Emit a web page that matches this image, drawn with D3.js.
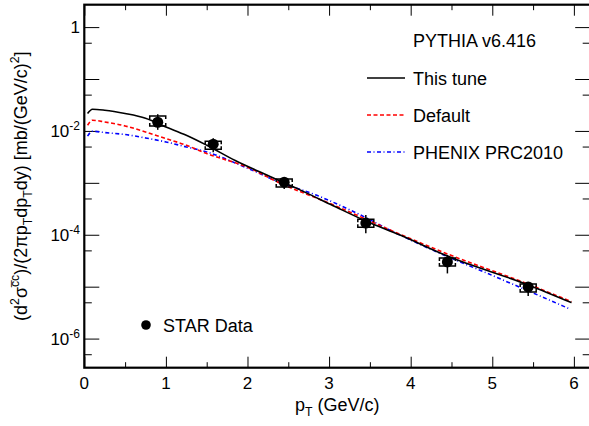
<!DOCTYPE html>
<html>
<head>
<meta charset="utf-8">
<script src="https://cdn.jsdelivr.net/npm/d3@7"></script>
<style>
  body { margin: 0; background: #fff; }
  svg { font-family: "Liberation Sans", Arial, sans-serif; }
</style>
</head>
<body>
<div id="chart"></div>
<script>
// STAR data points
const starPt = [0.9, 1.58, 2.45, 3.45, 4.45, 5.44];
const starVal = [1.47e-2, 5.55e-3, 1.03e-3, 1.68e-4, 3.0e-5, 9.9e-6];
const statLo = [1.05e-2, 3.9e-3, 7.6e-4, 1.07e-4, 1.8e-5, 6.6e-6];
const statHi = [2.1e-2, 7.2e-3, 1.29e-3, 2.4e-4, 4.1e-5, 1.23e-5];
const sysLo = [1.25e-2, 4.46e-3, 8.3e-4, 1.4e-4, 2.5e-5, 7.9e-6];
const sysHi = [1.94e-2, 6.34e-3, 1.18e-3, 2.0e-4, 3.55e-5, 1.13e-5];

// PYTHIA curves
const tunePt = [0.04, 0.1, 0.25, 0.5, 0.75, 1.0, 1.25, 1.5, 1.85, 2.25, 2.65, 3.05, 3.45, 3.87, 4.45, 5.44, 5.97];
const tuneVal = [0.02163, 0.02612, 0.0250, 0.02163, 0.01754, 0.01194, 0.00826, 0.00531, 0.00269, 0.00138, 7.24e-4, 3.63e-4, 1.84e-4, 9.86e-5, 3.89e-5, 1.08e-5, 4.92e-6];

const defPt = [0.04, 0.1, 0.25, 0.5, 0.75, 1.0, 1.25, 1.5, 2.0, 2.4, 3.0, 3.87, 4.45, 5.44, 5.97];
const defVal = [0.01288, 0.01607, 0.01489, 0.01247, 0.00957, 0.00714, 0.00531, 0.00367, 0.0020, 9.86e-4, 4.07e-4, 1.02e-4, 4.27e-5, 1.12e-5, 5.13e-6];

const phxPt = [0.04, 0.1, 0.25, 0.5, 0.75, 1.0, 1.25, 1.5, 2.0, 2.4, 2.85, 3.26, 3.87, 4.45, 4.89, 5.95];
const phxVal = [0.00794, 0.00986, 0.00931, 0.00853, 0.00733, 0.00614, 0.00492, 0.00394, 0.00191, 0.00102, 5.75e-4, 2.99e-4, 9.86e-5, 3.80e-5, 1.95e-5, 3.72e-6];

const xTicks = [0, 1, 2, 3, 4, 5, 6];
const xMinor = [0.5, 1.5, 2.5, 3.5, 4.5, 5.5];
const yMajor = [1e-6, 1e-5, 1e-4, 1e-3, 1e-2, 1e-1, 1];
const yMinor = [5e-7, 5e-6, 5e-5, 5e-4, 5e-3, 5e-2, 5e-1];
const yLabels = [[1, "1", ""], [1e-2, "10", "-2"], [1e-4, "10", "-4"], [1e-6, "10", "-6"]];

const legendItems = [
  { name: "This tune", color: "#000", dash: null },
  { name: "Default", color: "#ff0000", dash: "4,2.5" },
  { name: "PHENIX PRC2010", color: "#0000ff", dash: "4,2.5,1,2.5" }
];

const width = 589, height = 426;
const mLeft = 84.3, mRight = 590.2, mTop = 4.7, mBottom = 367.7;

const svg = d3.select("#chart").append("svg").attr("width", width).attr("height", height);
const x = d3.scaleLinear().domain([0, 6.2]).range([mLeft, mRight]);
const y = d3.scaleLog().domain([2.75e-7, 2.7]).range([mBottom, mTop]);

function tickAxis(axis, tr, vals, size) {
  const g = svg.append("g").attr("transform", tr)
    .call(axis.tickValues(vals).tickSize(-size).tickFormat(""));
  g.select(".domain").remove();
  g.selectAll("line").attr("stroke", "#000").attr("stroke-width", 1);
}
tickAxis(d3.axisLeft(y), `translate(${mLeft},0)`, yMajor, 15);
tickAxis(d3.axisLeft(y), `translate(${mLeft},0)`, yMinor, 7.5);
tickAxis(d3.axisRight(y), `translate(${mRight},0)`, yMajor, 15);
tickAxis(d3.axisRight(y), `translate(${mRight},0)`, yMinor, 7.5);
tickAxis(d3.axisBottom(x), `translate(0,${mBottom})`, xTicks, 11);
tickAxis(d3.axisBottom(x), `translate(0,${mBottom})`, xMinor, 5.5);
tickAxis(d3.axisTop(x), `translate(0,${mTop})`, xTicks, 11);
tickAxis(d3.axisTop(x), `translate(0,${mTop})`, xMinor, 5.5);

// frame
svg.append("rect").attr("x", mLeft).attr("y", mTop)
  .attr("width", mRight - mLeft).attr("height", mBottom - mTop)
  .attr("fill", "none").attr("stroke", "#000").attr("stroke-width", 2.2);

// tick labels
svg.selectAll(".xl").data(xTicks).enter().append("text")
  .attr("x", d => x(d)).attr("y", mBottom + 21)
  .attr("text-anchor", "middle").style("font-size", "17px").text(d => d);

yLabels.forEach(l => {
  const t = svg.append("text").attr("x", 80).attr("y", y(l[0]) + 6)
    .attr("text-anchor", "end").style("font-size", "17px");
  t.append("tspan").text(l[1]);
  if (l[2]) t.append("tspan").attr("dy", -7).style("font-size", "12px").text(l[2]);
});

// rich text helper: parts are [text, "n"|"sup"|"sub"]
function rich(t, parts, size) {
  let cur = 0;
  parts.forEach(p => {
    const target = p[1] === "sup" ? -0.42 * size : p[1] === "sub" ? 0.28 * size : 0;
    t.append("tspan").attr("dy", target - cur)
      .style("font-size", p[1] === "n" ? size + "px" : (size * 0.68) + "px")
      .text(p[0]);
    cur = target;
  });
}

const xt = svg.append("text").attr("x", (mLeft + mRight) / 2).attr("y", 411)
  .attr("text-anchor", "middle").style("font-size", "18px");
rich(xt, [["p", "n"], ["T", "sub"], [" (GeV/c)", "n"]], 18);

const yt = svg.append("text").attr("transform", `translate(27,${(mTop + mBottom) / 2}) rotate(-90)`)
  .attr("text-anchor", "middle").style("font-size", "18px");
rich(yt, [["(d", "n"], ["2", "sup"], ["\u03c3", "n"], ["c\u0305c", "sup"], [")/(2\u03c0p", "n"], ["T", "sub"],
  ["dp", "n"], ["T", "sub"], ["dy) [mb/(GeV/c)", "n"], ["2", "sup"], ["]", "n"]], 18);

// curves
const line = d3.line().x(d => x(d[0])).y(d => y(d[1])).curve(d3.curveMonotoneX);
const curves = [d3.zip(tunePt, tuneVal), d3.zip(defPt, defVal), d3.zip(phxPt, phxVal)];
[2, 1, 0].forEach(i => {
  svg.append("path").datum(curves[i]).attr("d", line)
    .attr("fill", "none").attr("stroke", legendItems[i].color)
    .attr("stroke-width", 1.6).attr("stroke-dasharray", legendItems[i].dash);
});

// STAR data with stat bars and bracket-style sys caps
const pts = starPt.map((p, i) => ({ p, v: starVal[i], sl: statLo[i], sh: statHi[i], yl: sysLo[i], yh: sysHi[i] }));
const g = svg.append("g").attr("stroke", "#000").attr("stroke-width", 1.5).attr("fill", "none");
pts.forEach(d => {
  const cx = x(d.p);
  g.append("line").attr("x1", cx).attr("x2", cx).attr("y1", y(d.sl)).attr("y2", y(d.sh));
  const hi = y(d.yh), lo = y(d.yl);
  g.append("path").attr("d", `M${cx - 8},${hi + 3}V${hi}H${cx + 8}V${hi + 3}`);
  g.append("path").attr("d", `M${cx - 8},${lo - 3}V${lo}H${cx + 8}V${lo - 3}`);
});
svg.selectAll(".pt").data(pts).enter().append("circle")
  .attr("cx", d => x(d.p)).attr("cy", d => y(d.v)).attr("r", 5.5).attr("fill", "#000");

// legend
svg.append("text").attr("x", 413).attr("y", 47).style("font-size", "18px").text("PYTHIA v6.416");
legendItems.forEach((it, i) => {
  const ly = 78 + i * 37;
  svg.append("line").attr("x1", 367).attr("x2", 405).attr("y1", ly).attr("y2", ly)
    .attr("stroke", it.color).attr("stroke-width", 1.6).attr("stroke-dasharray", it.dash);
  svg.append("text").attr("x", 413).attr("y", ly + 7).style("font-size", "18px").text(it.name);
});
svg.append("circle").attr("cx", 146).attr("cy", 325).attr("r", 4.8).attr("fill", "#000");
svg.append("text").attr("x", 163).attr("y", 331.5).style("font-size", "18px").text("STAR Data");
</script>
</body>
</html>
